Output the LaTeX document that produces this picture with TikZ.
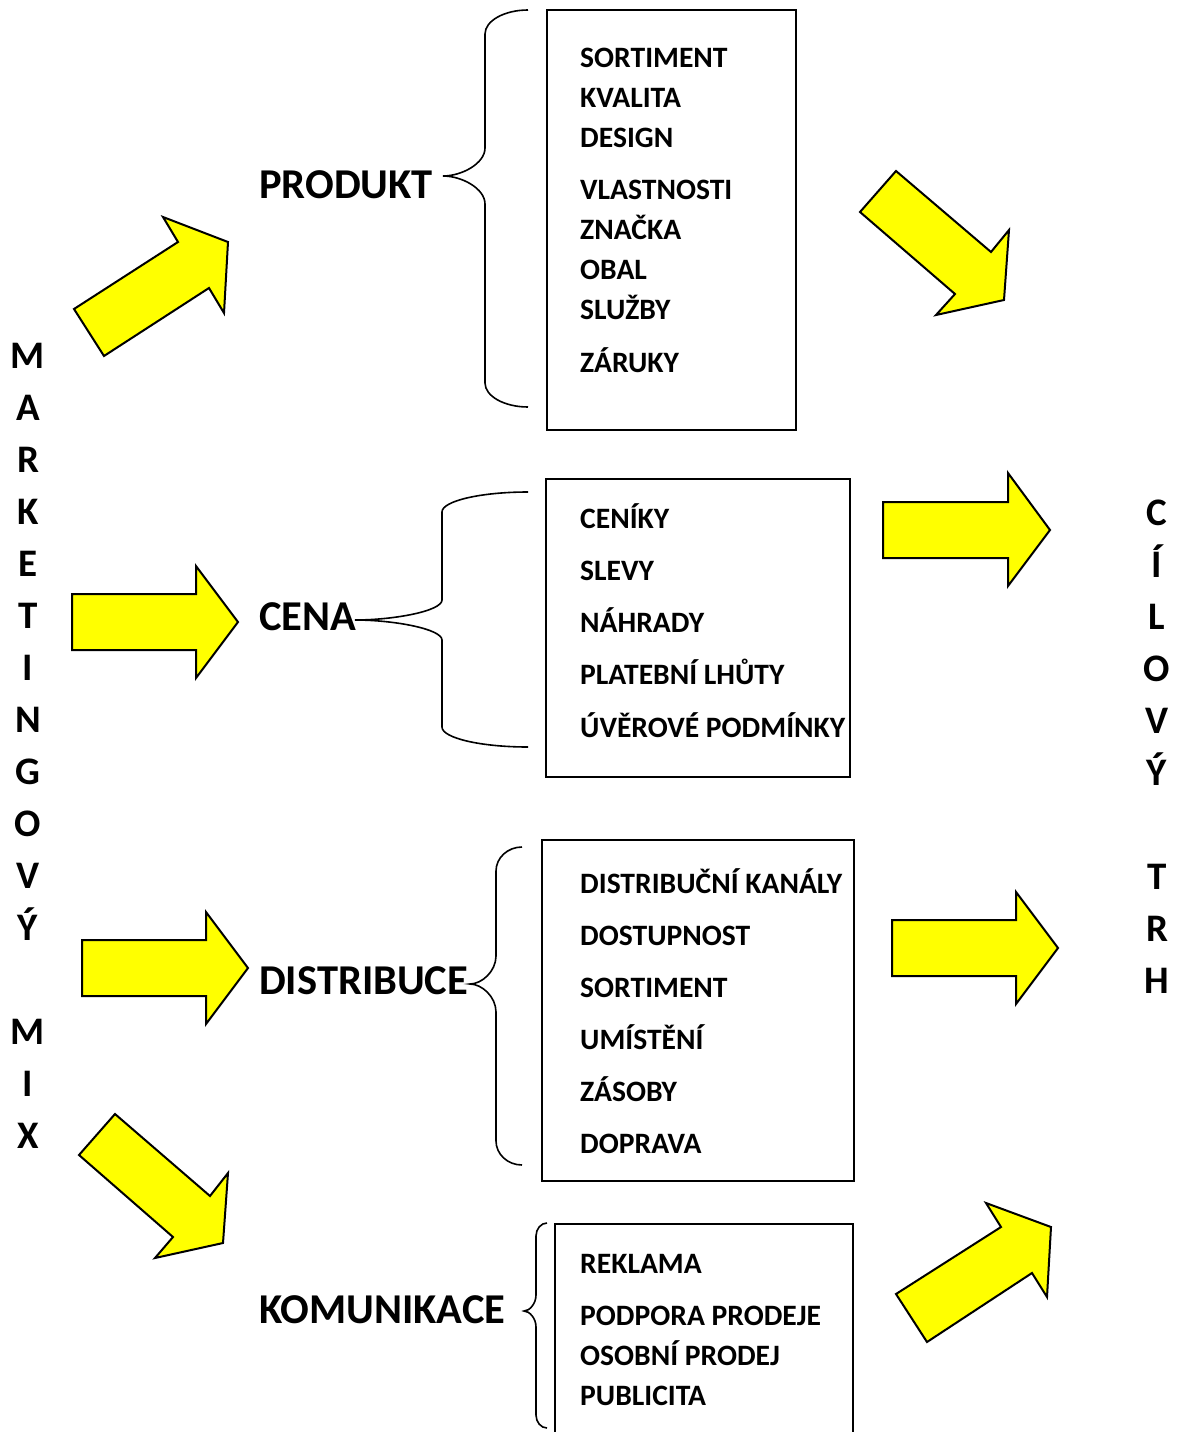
\documentclass[tikz,border=0pt]{standalone}
\usepackage{fontspec}
\setmainfont{Carlito}
\definecolor{yel}{RGB}{255,255,0}
\tikzset{
 box/.style={draw, line width=2pt, inner sep=0pt, anchor=north west},
 yarrow/.style={draw=black, fill=yel, line width=2pt, line join=miter},
 brc/.style={draw, line width=1.6pt},
 item/.style={anchor=base west, inner sep=0pt, font=\fontsize{29.6}{35}\selectfont\bfseries},
 big/.style={anchor=base west, inner sep=0pt, font=\fontsize{42.5}{50}\selectfont\bfseries},
 vlet/.style={anchor=base, inner sep=0pt, font=\fontsize{39}{47}\selectfont\bfseries},
}
% brace: xe, xv, xt, ye1, yt, ye2, r1, r2
\newcommand\mybrace[8]{%
 \draw[brc] (#1,#4) .. controls ({#2+0.45*(#1-#2)},#4) and (#2,{#4+0.45*#7}) .. (#2,{#4+#7})
  -- (#2,{#5-#8}) .. controls (#2,{#5-0.45*#8}) and ({#3+0.45*(#2-#3)},#5) .. (#3,#5)
  .. controls ({#3+0.45*(#2-#3)},#5) and (#2,{#5+0.45*#8}) .. (#2,{#5+#8})
  -- (#2,{#6-#7}) .. controls (#2,{#6-0.45*#7}) and ({#2+0.45*(#1-#2)},#6) .. (#1,#6);}
\begin{document}
\begin{tikzpicture}[x=1pt,y=-1pt]
\clip (0,0) rectangle (1184,1432);
\fill[white] (0,0) rectangle (1184,1432);

% boxes
\node[box, minimum width=249pt, minimum height=420pt] (b1) at (546,9) {};
\node[box, minimum width=304pt, minimum height=298pt] (b2) at (545,478) {};
\node[box, minimum width=312pt, minimum height=341pt] (b3) at (541,839) {};
\node[box, minimum width=298pt, minimum height=240pt] (b4) at (554,1223) {};

% items box 1
\node[item] (p1) at (580,67) {SORTIMENT};
\node[item] (p2) at (580,107) {KVALITA};
\node[item] (p3) at (580,147) {DESIGN};
\node[item] (p4) at (580,199) {VLASTNOSTI};
\node[item] (p5) at (580,239) {ZNAČKA};
\node[item] (p6) at (580,279) {OBAL};
\node[item] (p7) at (580,319) {SLUŽBY};
\node[item] (p8) at (580,372) {ZÁRUKY};
% items box 2
\node[item] (c1) at (580,528) {CENÍKY};
\node[item] (c2) at (580,580) {SLEVY};
\node[item] (c3) at (580,632) {NÁHRADY};
\node[item] (c4) at (580,684) {PLATEBNÍ LHŮTY};
\node[item] (c5) at (580,737) {ÚVĚROVÉ PODMÍNKY};
% items box 3
\node[item] (d1) at (580,893) {DISTRIBUČNÍ KANÁLY};
\node[item] (d2) at (580,945) {DOSTUPNOST};
\node[item] (d3) at (580,997) {SORTIMENT};
\node[item] (d4) at (580,1049) {UMÍSTĚNÍ};
\node[item] (d5) at (580,1101) {ZÁSOBY};
\node[item] (d6) at (580,1153) {DOPRAVA};
% items box 4
\node[item] (k1) at (580,1273) {REKLAMA};
\node[item] (k2) at (580,1325) {PODPORA PRODEJE};
\node[item] (k3) at (580,1365) {OSOBNÍ PRODEJ};
\node[item] (k4) at (580,1405) {PUBLICITA};

% big labels
\node[big] (produkt) at (259,198) {PRODUKT};
\node[big] (cena) at (259,630) {CENA};
\node[big] (distr) at (259,994) {DISTRIBUCE};
\node[big] (komun) at (259,1323) {KOMUNIKACE};

% braces
\mybrace{528}{485}{443}{10}{176}{407}{24}{28}
\mybrace{528}{442}{355}{492}{620}{747}{20}{20}
\mybrace{522}{496}{470}{847}{984}{1165}{24}{28}
\mybrace{547}{536}{524}{1223}{1311}{1428}{13}{16}

% vertical letters left
\foreach \l [count=\i from 0] in {M,A,R,K,E,T,I,N,G,O,V,Ý}
  \node[vlet] (ml\i) at (28,{368+52*\i}) {\l};
\node[vlet] (mx0) at (28,1044) {M};
\node[vlet] (mx1) at (28,1096) {I};
\node[vlet] (mx2) at (28,1148) {X};

% vertical letters right
\foreach \l [count=\i from 0] in {C,Í,L,O,V,Ý}
  \node[vlet] (ct\i) at (1157,{525+52*\i}) {\l};
\node[vlet] (tr0) at (1157,889) {T};
\node[vlet] (tr1) at (1157,941) {R};
\node[vlet] (tr2) at (1157,993) {H};

% yellow arrows
\draw[yarrow] (74,309) -- (178,242) -- (163,217) -- (228,242) -- (224,313) -- (209,288) -- (104,356) -- cycle;
\draw[yarrow] (860,212) -- (896,171) -- (991,252) -- (1009,230) -- (1004,300) -- (936,315) -- (955,294) -- cycle;
\draw[yarrow] (79,1155) -- (115,1114) -- (210,1196) -- (228,1173) -- (223,1243) -- (155,1258) -- (173,1237) -- cycle;
\draw[yarrow] (896,1294) -- (1001,1227) -- (986,1203) -- (1051,1227) -- (1047,1297) -- (1032,1273) -- (927,1342) -- cycle;
\draw[yarrow] (72,594) -- (196,594) -- (196,566) -- (238,622) -- (196,678) -- (196,650) -- (72,650) -- cycle;
\draw[yarrow] (82,940) -- (206,940) -- (206,912) -- (248,968) -- (206,1024) -- (206,996) -- (82,996) -- cycle;
\draw[yarrow] (883,502) -- (1008,502) -- (1008,473) -- (1050,530) -- (1008,586) -- (1008,558) -- (883,558) -- cycle;
\draw[yarrow] (892,920) -- (1016,920) -- (1016,892) -- (1058,948) -- (1016,1004) -- (1016,976) -- (892,976) -- cycle;
\end{tikzpicture}
\end{document}
